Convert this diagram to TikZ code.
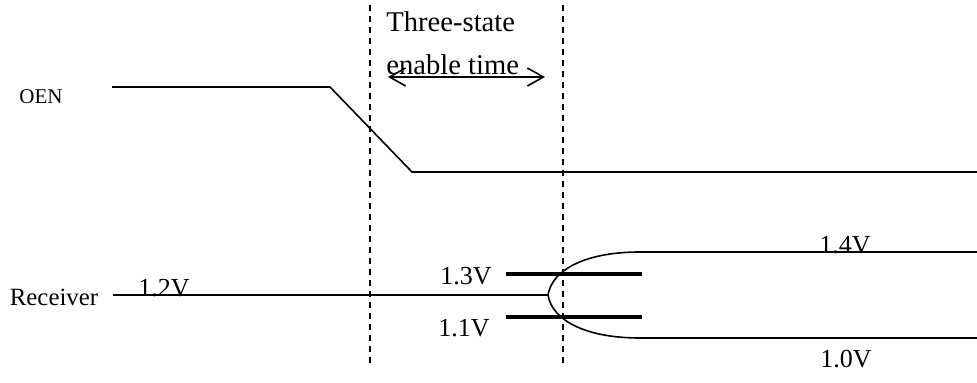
\documentclass[tikz,border=0pt]{standalone}
\usepackage{fontspec}
\setmainfont{Liberation Serif}
\usetikzlibrary{arrows.meta, positioning}

\begin{document}
\begin{tikzpicture}[x=0.5pt, y=-0.5pt,
  wave/.style={line width=0.8pt, line join=round},
  level/.style={line width=1.8pt},
  guide/.style={line width=0.7pt, dash pattern=on 3pt off 2.5pt},
  volt/.style={inner sep=0pt, font=\fontsize{13}{15}\selectfont},
  sig/.style={inner sep=0pt}]
  \useasboundingbox (0,0) rectangle (977,383);

  % Guides
  \draw[guide] (370,5) -- (370,365);
  \draw[guide] (563,5) -- (563,365);

  % Title and interval
  \node[inner sep=0pt, align=left, anchor=north west, font=\fontsize{14.3}{21.5}\selectfont] (title) at (386,11) {Three-state\\enable time};
  \coordinate (tl) at (388,77);
  \coordinate (tr) at (545,77);
  \draw[wave, {Straight Barb[length=8pt,width=9pt]}-{Straight Barb[length=8pt,width=9pt]}] (tl) -- (tr);

  % OEN
  \node[sig, font=\fontsize{10.5}{12}\selectfont] (oen) at (41,97) {OEN};
  \draw[wave] (112,87) -- (330,87) -- (412,172) -- (977,172);

  % Receiver
  \node[sig, font=\fontsize{12.4}{14}\selectfont] (rx) at (54,297) {Receiver};
  \coordinate (tip) at (548,295);
  \draw[wave] (113,295) -- (tip);
  \draw[wave] (tip) .. controls (552,270) and (585,252) .. (640,252) -- (977,252);
  \draw[wave] (tip) .. controls (552,320) and (585,338) .. (640,338) -- (977,338);

  % Thresholds
  \draw[level] (506,274) -- (642,274);
  \draw[level] (506,317) -- (642,317);

  % Voltages
  \node[volt, anchor=base] (v12) at (164,297) {1.2V};
  \node[volt, anchor=base east] (v13) at (492,285) {1.3V};
  \node[volt, anchor=base east] (v11) at (490,337) {1.1V};
  \node[volt, anchor=base] (v14) at (845,254) {1.4V};
  \node[volt, anchor=base] (v10) at (846,368) {1.0V};
\end{tikzpicture}
\end{document}
